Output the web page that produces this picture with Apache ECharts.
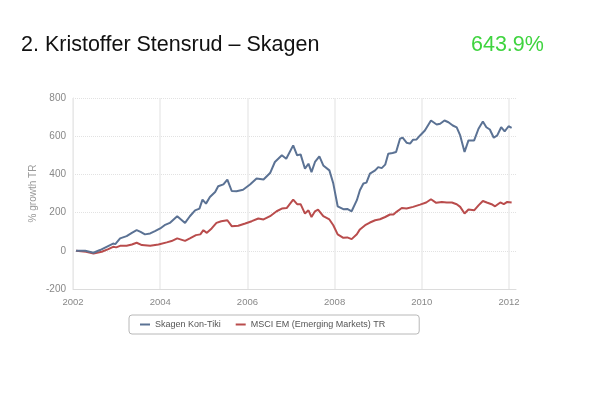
<!DOCTYPE html>
<html>
<head>
<meta charset="utf-8">
<script src="https://cdn.jsdelivr.net/npm/echarts@6/dist/echarts.min.js"></script>
<style>html,body{margin:0;padding:0;background:#fff;}#chart{width:600px;height:398px;}</style>
</head>
<body>
<div id="chart"></div>
<script>
const titleText = '2. Kristoffer Stensrud – Skagen';
const headlineValue = '643.9%';
const seriesNames = ['Skagen Kon-Tiki', 'MSCI EM (Emerging Markets) TR'];
const xTicks = [2002, 2004, 2006, 2008, 2010, 2012];
const blueX = [2002.07, 2002.1, 2002.28, 2002.47, 2002.62, 2002.77, 2002.92, 2002.97, 2003.08, 2003.23, 2003.35, 2003.46, 2003.55, 2003.65, 2003.77, 2003.88, 2004.0, 2004.1, 2004.22, 2004.39, 2004.57, 2004.68, 2004.8, 2004.9, 2004.97, 2005.05, 2005.14, 2005.26, 2005.33, 2005.45, 2005.54, 2005.64, 2005.75, 2005.9, 2006.06, 2006.21, 2006.37, 2006.52, 2006.63, 2006.79, 2006.89, 2007.05, 2007.14, 2007.22, 2007.32, 2007.4, 2007.47, 2007.55, 2007.65, 2007.74, 2007.88, 2007.97, 2008.07, 2008.2, 2008.29, 2008.39, 2008.51, 2008.58, 2008.66, 2008.73, 2008.81, 2008.93, 2009.0, 2009.08, 2009.16, 2009.23, 2009.33, 2009.41, 2009.5, 2009.56, 2009.65, 2009.73, 2009.8, 2009.88, 2009.96, 2010.07, 2010.21, 2010.34, 2010.42, 2010.52, 2010.61, 2010.71, 2010.8, 2010.88, 2010.98, 2011.07, 2011.2, 2011.3, 2011.4, 2011.48, 2011.56, 2011.65, 2011.73, 2011.82, 2011.9, 2011.99, 2012.06];
const blueY = [0, 9, 0, -10, 4, 21, 38, 35, 65, 77, 94, 108, 99, 86, 91, 103, 117, 134, 146, 181, 146, 181, 212, 221, 268, 247, 282, 308, 338, 348, 373, 313, 312, 320, 347, 378, 373, 407, 465, 500, 482, 552, 500, 505, 430, 456, 412, 465, 494, 447, 421, 352, 233, 218, 219, 207, 265, 317, 352, 357, 404, 421, 438, 433, 451, 508, 512, 517, 587, 592, 566, 561, 582, 583, 604, 630, 682, 661, 665, 682, 673, 656, 646, 604, 517, 578, 578, 639, 677, 647, 635, 592, 604, 647, 625, 652, 644];
const redX = [2002.07, 2002.1, 2002.3, 2002.47, 2002.66, 2002.81, 2002.92, 2002.99, 2003.08, 2003.23, 2003.35, 2003.46, 2003.58, 2003.77, 2003.96, 2004.15, 2004.26, 2004.39, 2004.57, 2004.68, 2004.82, 2004.92, 2004.99, 2005.07, 2005.18, 2005.29, 2005.4, 2005.54, 2005.64, 2005.79, 2005.95, 2006.1, 2006.25, 2006.37, 2006.52, 2006.67, 2006.79, 2006.9, 2007.05, 2007.14, 2007.22, 2007.32, 2007.4, 2007.47, 2007.55, 2007.62, 2007.74, 2007.88, 2007.97, 2008.07, 2008.2, 2008.29, 2008.39, 2008.51, 2008.58, 2008.7, 2008.81, 2008.93, 2009.04, 2009.16, 2009.27, 2009.35, 2009.42, 2009.54, 2009.65, 2009.8, 2009.96, 2010.1, 2010.21, 2010.33, 2010.46, 2010.57, 2010.69, 2010.8, 2010.88, 2010.98, 2011.07, 2011.2, 2011.3, 2011.4, 2011.49, 2011.6, 2011.68, 2011.8, 2011.88, 2011.96, 2012.06];
const redY = [0, 7, -5, -14, -5, 9, 21, 18, 26, 26, 33, 42, 30, 26, 33, 44, 51, 65, 52, 65, 82, 86, 108, 94, 117, 146, 155, 160, 129, 131, 143, 155, 169, 164, 181, 207, 221, 224, 268, 244, 244, 195, 212, 177, 207, 216, 181, 164, 134, 86, 68, 70, 61, 87, 112, 134, 148, 160, 165, 177, 190, 190, 204, 224, 221, 230, 242, 253, 270, 251, 256, 253, 253, 244, 230, 195, 216, 212, 238, 261, 253, 244, 233, 253, 244, 256, 253];

const pair = (xs, ys) => xs.map((x, i) => [x, ys[i]]);
const chart = echarts.init(document.getElementById('chart'), null, { renderer: 'canvas' });
const font = 'Liberation Sans, Arial, sans-serif';
chart.setOption({
  animation: false,
  backgroundColor: '#fff',
  title: [
    { text: titleText, left: 16, top: 29, textStyle: { fontFamily: font, fontSize: 21.5, fontWeight: 'normal', color: '#111' } },
    { text: headlineValue, left: 466, top: 29, textStyle: { fontFamily: font, fontSize: 21.5, fontWeight: 'normal', color: '#3fd43f' } }
  ],
  legend: {
    data: seriesNames,
    left: 129, top: 315,
    padding: [5, 34, 5, 11],
    itemGap: 15,
    itemWidth: 10, itemHeight: 2,
    icon: 'rect',
    borderColor: '#b8b8b8', borderWidth: 1, borderRadius: 3,
    textStyle: { fontFamily: font, fontSize: 9, color: '#555' }
  },
  grid: { left: 73, right: 84, top: 98, bottom: 109, containLabel: false },
  xAxis: {
    type: 'value', min: 2002, max: 2012.16, interval: 2,
    axisLine: { show: true, onZero: false, lineStyle: { color: '#dcdcdc' } },
    axisTick: { show: true, inside: true, length: 191, customValues: xTicks, lineStyle: { color: '#ececec', width: 1.5 } },
    axisLabel: { customValues: xTicks, color: '#888', fontFamily: font, fontSize: 9.5, margin: 8, formatter: v => String(v) },
    splitLine: { show: false }
  },
  yAxis: {
    type: 'value', min: -200, max: 800, interval: 200,
    name: '% growth TR', nameLocation: 'middle', nameGap: 35, nameMoveOverlap: false,
    nameTextStyle: { color: '#999', fontFamily: font, fontSize: 10 },
    axisLine: { show: true, lineStyle: { color: '#e2e2e2' } },
    axisTick: { show: false },
    axisLabel: { color: '#888', fontFamily: font, fontSize: 10, margin: 7 },
    splitLine: { show: true, lineStyle: { color: '#e2e2e2', type: 'dotted', width: 1 } }
  },
  series: [
    { name: seriesNames[0], type: 'line', data: pair(blueX, blueY), showSymbol: false, symbol: 'none', lineStyle: { color: '#5b7294', width: 2 }, itemStyle: { color: '#5b7294' }, z: 3 },
    { name: seriesNames[1], type: 'line', data: pair(redX, redY), showSymbol: false, symbol: 'none', lineStyle: { color: '#b94c4c', width: 2 }, itemStyle: { color: '#b94c4c' }, z: 2 }
  ]
});
</script>
</body>
</html>
